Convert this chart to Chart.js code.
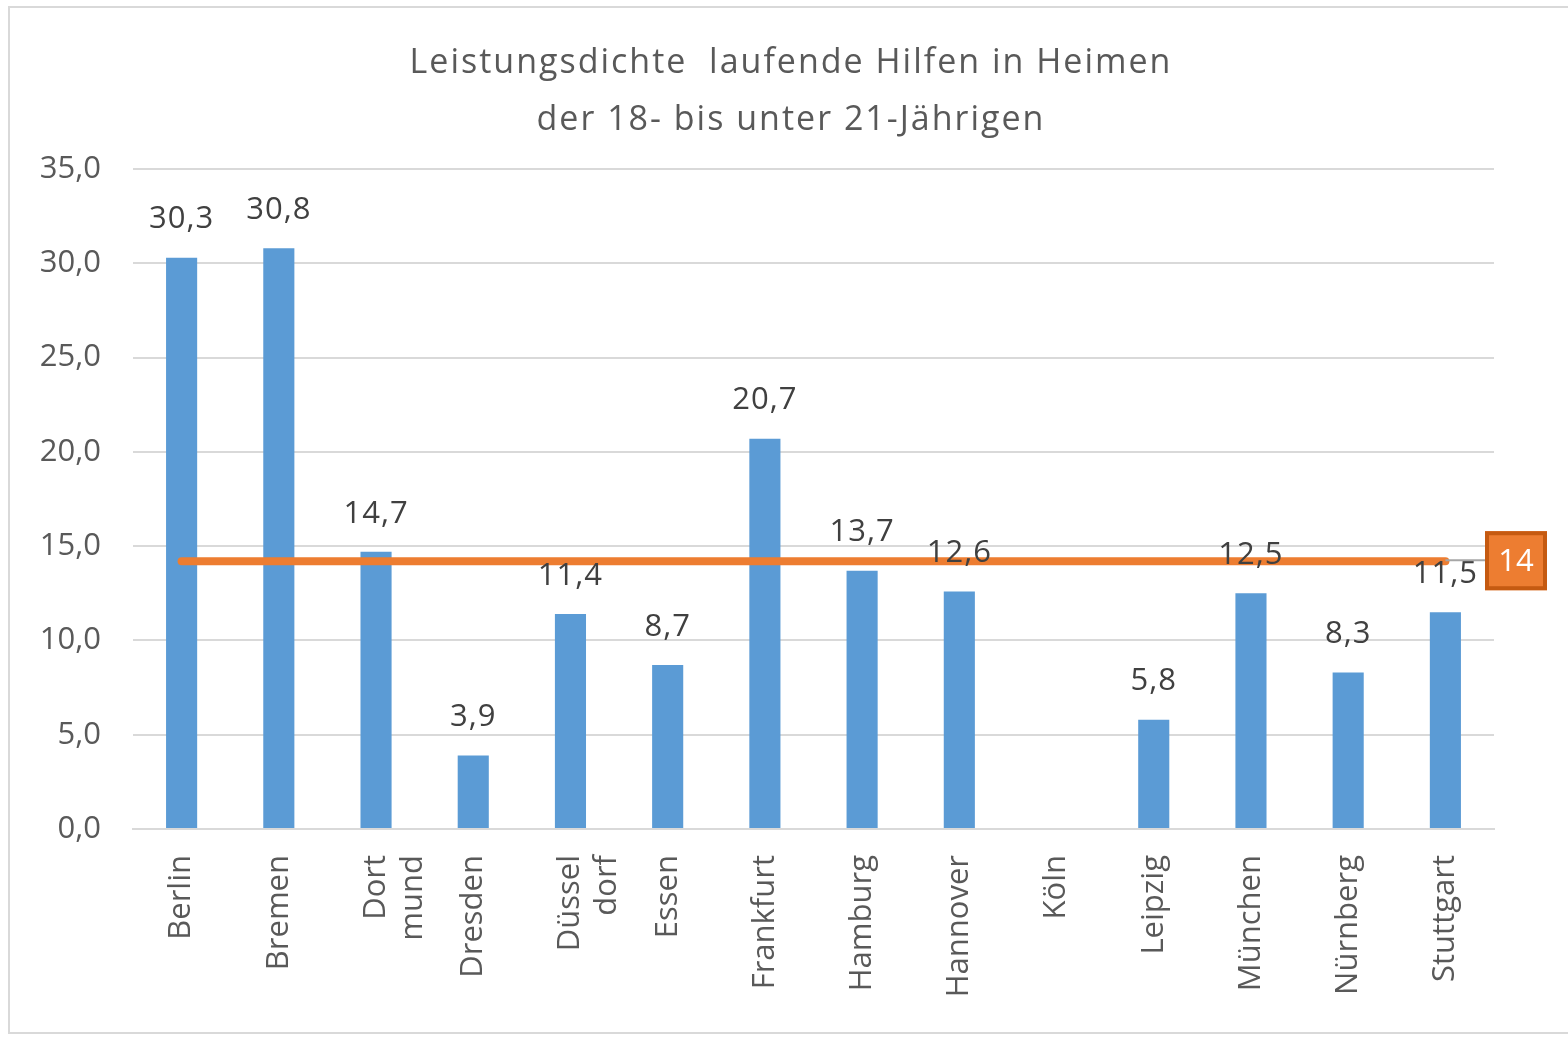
<!DOCTYPE html>
<html>
<head>
<meta charset="utf-8">
<script src="https://cdn.jsdelivr.net/npm/chart.js@4"></script>
<style>
  html, body { margin: 0; padding: 0; background: #fff; overflow: hidden; }
  #frame {
    position: absolute; left: 8px; top: 6px; width: 1600px; height: 1028px;
    border: 2px solid #d9d9d9; box-sizing: border-box;
  }
  #wrap { position: absolute; left: 0; top: 0; width: 1568px; height: 1037px; }
</style>
</head>
<body>
<div id="frame"></div>
<div id="wrap"><canvas id="chart"></canvas></div>
<script>
const cities = ["Berlin", "Bremen", ["Dort", "mund"], "Dresden", ["Düssel", "dorf"], "Essen",
  "Frankfurt", "Hamburg", "Hannover", "Köln", "Leipzig", "München", "Nürnberg", "Stuttgart"];
const density = [30.3, 30.8, 14.7, 3.9, 11.4, 8.7, 20.7, 13.7, 12.6, null, 5.8, 12.5, 8.3, 11.5];
const average = [14.2, 14.2, 14.2, 14.2, 14.2, 14.2, 14.2, 14.2, 14.2, 14.2, 14.2, 14.2, 14.2, 14.2];
const titleLines = ["Leistungsdichte  laufende Hilfen in Heimen", "der 18- bis unter 21-Jährigen"];

const FONT = "'Open Sans', sans-serif";

function fmt(v) {
  return v.toFixed(1).replace(".", ",");
}

// draws title, value labels and the box on the end of the average line
const extras = {
  id: "extras",
  afterDatasetsDraw(chart) {
    const { ctx } = chart;
    ctx.save();
    ctx.fillStyle = "#595959";
    ctx.font = "34px " + FONT;
    ctx.letterSpacing = "2px";
    ctx.textAlign = "center";
    ctx.textBaseline = "middle";
    ctx.fillText(titleLines[0], 791, 63);
    ctx.fillText(titleLines[1], 791, 120);

    // value labels
    const bars = chart.getDatasetMeta(0).data;
    ctx.fillStyle = "#404040";
    ctx.font = "31px " + FONT;
    ctx.letterSpacing = "1px";
    bars.forEach((bar, i) => {
      if (density[i] == null) return;
      ctx.fillText(fmt(density[i]), bar.x, bar.y - 38);
    });

    // average label box
    const pts = chart.getDatasetMeta(1).data;
    const last = pts[pts.length - 1];
    ctx.strokeStyle = "#a6a6a6";
    ctx.lineWidth = 2;
    ctx.beginPath();
    ctx.moveTo(last.x, last.y - 1);
    ctx.lineTo(1485, last.y - 1);
    ctx.stroke();
    ctx.fillStyle = "#ed7d31";
    ctx.fillRect(1485, last.y - 30, 62, 59);
    ctx.strokeStyle = "#c55a11";
    ctx.lineWidth = 4;
    ctx.strokeRect(1487, last.y - 28, 58, 55);
    ctx.fillStyle = "#ffffff";
    ctx.font = "31px " + FONT;
    ctx.letterSpacing = "0px";
    ctx.fillText(String(Math.round(average[average.length - 1])), 1516, last.y + 1);
    ctx.restore();
  }
};

new Chart(document.getElementById("chart"), {
  type: "bar",
  data: {
    labels: cities,
    datasets: [
      {
        label: "Leistungsdichte",
        data: density,
        backgroundColor: "#5b9bd5",
        barPercentage: 0.32,
        categoryPercentage: 1.0,
        order: 2
      },
      {
        type: "line",
        label: "Durchschnitt",
        data: average,
        borderColor: "#ed7d31",
        borderWidth: 8,
        borderCapStyle: "round",
        pointRadius: 0,
        fill: false,
        order: 1
      }
    ]
  },
  options: {
    responsive: true,
    maintainAspectRatio: false,
    animation: false,
    layout: { padding: { top: 169, right: 74, left: 0, bottom: 0 } },
    plugins: {
      legend: { display: false },
      title: { display: false },
      tooltip: { enabled: false }
    },
    scales: {
      x: {
        grid: { display: false },
        border: { color: "#d9d9d9", width: 2 },
        ticks: {
          color: "#595959",
          font: { family: FONT, size: 31 },
          minRotation: 90,
          maxRotation: 90,
          padding: 18,
          autoSkip: false
        },
        afterFit(scale) { scale.height = 208; }
      },
      y: {
        min: 0,
        max: 35,
        grid: { color: "#d9d9d9", lineWidth: 2, drawTicks: false },
        border: { display: false },
        ticks: {
          stepSize: 5,
          color: "#595959",
          font: { family: FONT, size: 31 },
          padding: 32,
          callback: (v) => fmt(v)
        },
        afterFit(scale) { scale.width = 133; }
      }
    }
  },
  plugins: [extras]
});
</script>
</body>
</html>
